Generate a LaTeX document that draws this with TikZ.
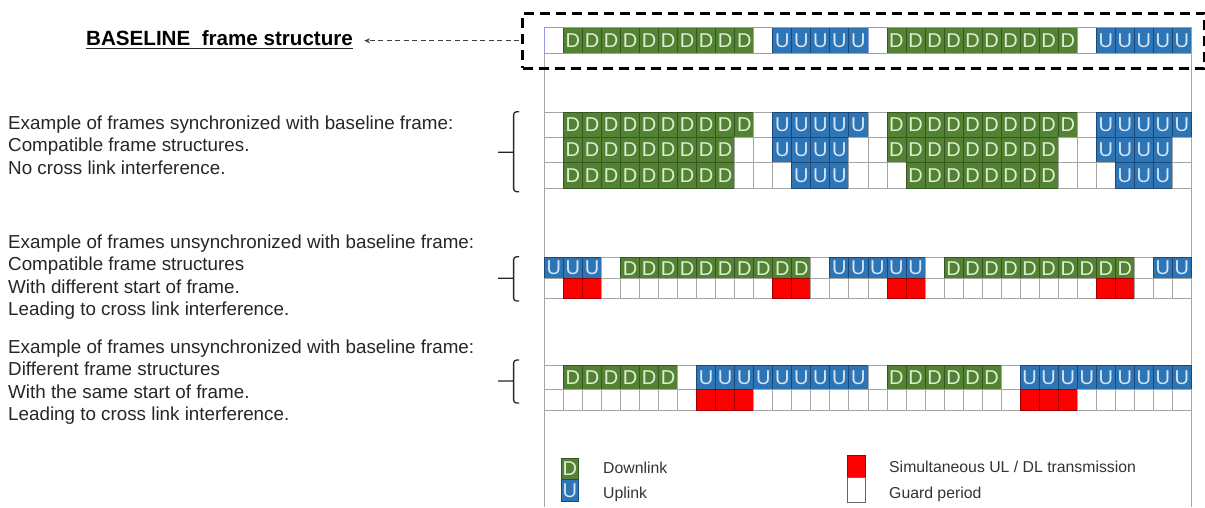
\documentclass[tikz,border=0pt]{standalone}
\usepackage{fontspec}
\setmainfont{Liberation Sans}
\usetikzlibrary{arrows.meta}

\definecolor{dlgreen}{RGB}{84,130,53}
\definecolor{dlgreenline}{RGB}{52,88,32}
\definecolor{dltext}{RGB}{222,238,210}
\definecolor{ulblue}{RGB}{46,117,182}
\definecolor{ulblueline}{RGB}{28,72,118}
\definecolor{ultext}{RGB}{214,230,246}
\definecolor{clashred}{RGB}{255,0,0}
\definecolor{clashredline}{RGB}{160,0,0}
\definecolor{gridgrey}{RGB}{165,165,165}
\definecolor{baselav}{RGB}{150,150,235}

\tikzset{
  cell/.style={draw, line width=0.8pt, inner sep=0pt, anchor=north west,
    minimum width=19.03pt, font=\fontsize{20}{20}\selectfont},
  cellD/.style={cell, fill=dlgreen, draw=dlgreenline, text=dltext, node contents={D}},
  cellU/.style={cell, fill=ulblue, draw=ulblueline, text=ultext, node contents={U}},
  cellR/.style={cell, fill=clashred, draw=clashredline, node contents={}},
  cellN/.style={cell, fill=white, draw=gridgrey, node contents={}},
  cellB/.style={cell, fill=white, draw=baselav, node contents={}},
  sidetext/.style={anchor=base west, inner sep=0pt, text=black!85,
    font=\fontsize{18.8}{22}\selectfont},
  legtext/.style={anchor=base west, inner sep=0pt, text=black!80,
    font=\fontsize{15.8}{18}\selectfont},
  bracketline/.style={line width=1.3pt, draw=black!85, rounded corners=3pt},
  arrowline/.style={draw=black!75, line width=1.2pt, dash pattern=on 5pt off 3.5pt,
    -{Stealth[length=6pt, width=5pt]}},
}

% one frame row: name, top, height, cell kinds
\newcommand{\framerow}[4]{%
  \foreach \c [count=\i from 0] in {#4} {
    \node (#1-\i) at ({544+\i*19.03}, #2) [cell\c, minimum height=#3pt];
  }
}

\begin{document}
\begin{tikzpicture}[x=1pt, y=-1pt]
\useasboundingbox (0,0) rectangle (1205,507);

% Rasterrand links/rechts
\draw[gridgrey, line width=0.8pt] (544,52.7) -- (544,507);
\draw[gridgrey, line width=0.8pt] (1191,52.7) -- (1191,507);

% Referenzrahmen
\framerow{base}{27.3}{25.4}{B,D,D,D,D,D,D,D,D,D,D,B,U,U,U,U,U,B,D,D,D,D,D,D,D,D,D,D,B,U,U,U,U,U}
\draw[baselav, line width=0.8pt] (base-0.north west) rectangle (base-33.south east);
\node[draw, line width=3pt, dash pattern=on 10pt off 6pt, inner sep=0pt,
  minimum width=682pt, minimum height=55pt, anchor=north west] (basebox) at (521,11.7) {};

\node[anchor=base west, inner sep=0pt, font=\bfseries\fontsize{20.6}{24}\selectfont]
  (title) at (86,45) {BASELINE\ \ frame structure};
\draw[line width=1.8pt, black!85] ([yshift=-3pt]title.south west) -- ([yshift=-3pt]title.south east);
\draw[arrowline, shorten <=2pt, shorten >=11pt] (basebox.west) -- (basebox.west -| title.east);

% synchron
\framerow{syncA}{112.3}{24.7}{N,D,D,D,D,D,D,D,D,D,D,N,U,U,U,U,U,N,D,D,D,D,D,D,D,D,D,D,N,U,U,U,U,U}
\framerow{syncB}{137}{25}{N,D,D,D,D,D,D,D,D,D,N,N,U,U,U,U,N,N,D,D,D,D,D,D,D,D,D,N,N,U,U,U,U,N}
\framerow{syncC}{162}{26.3}{N,D,D,D,D,D,D,D,D,D,N,N,N,U,U,U,N,N,N,D,D,D,D,D,D,D,D,N,N,N,U,U,U,N}

% verschobener Rahmenbeginn
\framerow{shiftF}{257.3}{21}{U,U,U,N,D,D,D,D,D,D,D,D,D,D,N,U,U,U,U,U,N,D,D,D,D,D,D,D,D,D,D,N,U,U}
\framerow{shiftR}{278.3}{20}{N,R,R,N,N,N,N,N,N,N,N,N,R,R,N,N,N,N,R,R,N,N,N,N,N,N,N,N,N,R,R,N,N,N}

% andere Rahmenstruktur
\framerow{diffF}{365}{24.3}{N,D,D,D,D,D,D,N,U,U,U,U,U,U,U,U,U,N,D,D,D,D,D,D,N,U,U,U,U,U,U,U,U,U}
\framerow{diffR}{389.3}{20.7}{N,N,N,N,N,N,N,N,R,R,R,N,N,N,N,N,N,N,N,N,N,N,N,N,N,R,R,R,N,N,N,N,N,N}

% Klammern
\foreach \btop/\bbot/\btick in {111.7/191.7/152.3, 256.7/301/278.3, 360/403/381} {
  \draw[bracketline] (519,\btop) -- (513.6,\btop) -- (513.6,\bbot) -- (519,\bbot)
    (514,\btick) -- (498,\btick);
}

% Beschreibungen
\foreach \t [count=\k from 0] in {{Example of frames synchronized with baseline frame:},
    {Compatible frame structures.}, {No cross link interference.}}
  \node[sidetext] (syncnote-\k) at (8, {129+\k*22.6}) {\t};
\foreach \t [count=\k from 0] in {{Example of frames unsynchronized with baseline frame:},
    {Compatible frame structures}, {With different start of frame.},
    {Leading to cross link interference.}}
  \node[sidetext] (shiftnote-\k) at (8, {248+\k*22.6}) {\t};
\foreach \t [count=\k from 0] in {{Example of frames unsynchronized with baseline frame:},
    {Different frame structures}, {With the same start of frame.},
    {Leading to cross link interference.}}
  \node[sidetext] (diffnote-\k) at (8, {353+\k*22.6}) {\t};

% Legende
\node (legD) at (561,458) [cellD, minimum width=17pt, minimum height=21pt];
\node (legU) at (561,479) [cellU, minimum width=17pt, minimum height=22pt];
\node (legR) at (847,455) [cellR, minimum width=18pt, minimum height=22pt];
\node (legN) at (847,477) [cellN, draw=black!60, minimum width=18pt, minimum height=25pt];
\node[legtext] (legDtext) at (603,473.7) {Downlink};
\node[legtext] (legUtext) at (603,498.7) {Uplink};
\node[legtext] (legRtext) at (889,472.7) {Simultaneous UL / DL transmission};
\node[legtext] (legNtext) at (889,498.7) {Guard period};
\end{tikzpicture}
\end{document}
